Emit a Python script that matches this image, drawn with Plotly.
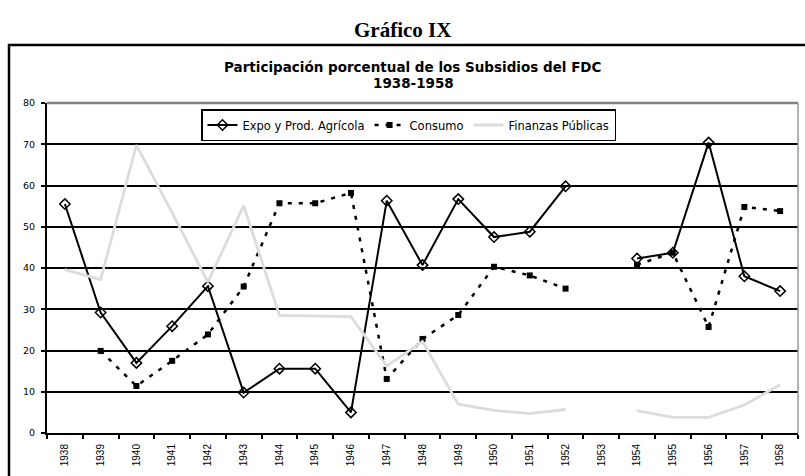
import plotly.graph_objects as go

years = [str(y) for y in range(1938, 1959)]
expo = [55.5, 29.2, 17.0, 25.9, 35.6, 9.8, 15.6, 15.6, 5.0, 56.3, 40.7, 56.7, 47.5, 48.8, 59.8,
        None, 42.3, 43.7, 70.4, 38.0, 34.4]
consumo = [None, 19.9, 11.4, 17.5, 23.9, 35.5, 55.7, 55.7, 58.2, 13.1, 22.8, 28.6, 40.3, 38.2, 35.0,
           None, 40.8, 43.7, 25.7, 54.8, 53.8]
finanzas = [39.6, 37.2, 69.8, 53.4, 36.6, 55.1, 28.5, 28.4, 28.2, 16.2, 22.2, 7.0, 5.5, 4.7, 5.7,
            None, 5.4, 3.8, 3.8, 6.8, 11.7]

fig = go.Figure()
fig.add_trace(go.Scatter(x=years, y=expo, name="Expo y Prod. Agrícola", mode="lines+markers",
                         line=dict(color="black", width=2),
                         marker=dict(symbol="diamond-open", size=8, color="black", line=dict(width=1.5)),
                         connectgaps=False))
fig.add_trace(go.Scatter(x=years, y=consumo, name="Consumo", mode="lines+markers",
                         line=dict(color="black", width=2.5, dash="4px,7px"),
                         marker=dict(symbol="square", size=6, color="black"),
                         connectgaps=False))
fig.add_trace(go.Scatter(x=years, y=finanzas, name="Finanzas Públicas", mode="lines",
                         line=dict(color="#dcdcdc", width=2.8),
                         connectgaps=False))

W, H = 805, 476
L, R, T, B = 47, 7, 103, 43
pw, ph = W - L - R, H - T - B

def px(x):
    return (x - L) / pw

def py(y):
    return (H - B - y) / ph

shapes = [
    dict(type="rect", xref="paper", yref="paper", x0=px(9), x1=px(830), y0=py(500), y1=py(45),
         line=dict(color="black", width=2.5), fillcolor="rgba(0,0,0,0)", layer="above"),
    dict(type="line", xref="paper", yref="paper", x0=0, x1=1, y0=1, y1=1,
         line=dict(color="#808080", width=2.5), layer="above"),
    dict(type="line", xref="paper", yref="paper", x0=1, x1=1, y0=0, y1=1,
         line=dict(color="#999999", width=1.5), layer="above"),
]

fig.update_layout(
    width=W, height=H,
    margin=dict(l=L, r=R, t=T, b=B, pad=0),
    paper_bgcolor="white", plot_bgcolor="white",
    font=dict(family="Liberation Sans, Arial", color="black"),
    shapes=shapes,
    showlegend=True,
    legend=dict(orientation="h", x=px(201), y=py(109), xanchor="left", yanchor="top",
                bordercolor="black", borderwidth=1.5, bgcolor="white",
                font=dict(size=11.5, family="DejaVu Sans, Liberation Sans"),
                itemwidth=30, tracegroupgap=0),
    annotations=[
        dict(text="<b>Gráfico IX</b>", xref="paper", yref="paper", x=px(402), y=py(30),
             xanchor="center", yanchor="middle", showarrow=False,
             font=dict(family="Liberation Serif, Times New Roman", size=21, color="black")),
        dict(text="<b>Participación porcentual de los Subsidios del FDC</b>", xref="paper", yref="paper",
             x=px(413), y=py(67), xanchor="center", yanchor="middle", showarrow=False,
             font=dict(family="DejaVu Sans, Liberation Sans", size=13.5, color="black")),
        dict(text="<b>1938-1958</b>", xref="paper", yref="paper",
             x=px(413), y=py(83), xanchor="center", yanchor="middle", showarrow=False,
             font=dict(family="DejaVu Sans, Liberation Sans", size=13.5, color="black")),
    ],
)

fig.update_xaxes(type="category", categoryorder="array", categoryarray=years,
                 tickangle=-90, tickfont=dict(size=10, family="Liberation Sans, Arial"),
                 ticks="outside", tickson="boundaries", ticklen=4, tickwidth=1.5, tickcolor="black",
                 ticklabelstandoff=5,
                 showline=True, linecolor="black", linewidth=2, showgrid=False, zeroline=False,
                 range=[-0.5, 20.5])
fig.update_yaxes(range=[0, 80], dtick=10, tick0=0,
                 tickfont=dict(size=9.5, family="DejaVu Sans, Liberation Sans"),
                 ticks="outside", ticklen=4, tickwidth=1.5, tickcolor="black",
                 ticklabelstandoff=4,
                 showline=True, linecolor="black", linewidth=2,
                 showgrid=True, gridcolor="black", gridwidth=1.8, zeroline=False)

fig.write_html("out.html", config={"displayModeBar": False},
               post_script="document.body.style.margin='0';document.body.style.overflow='hidden';")
